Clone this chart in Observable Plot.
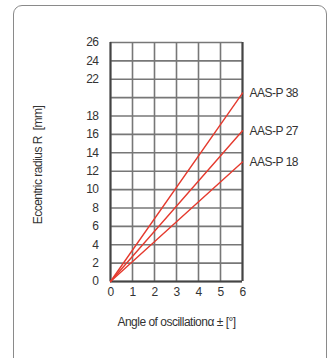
<!DOCTYPE html>
<html><head><meta charset="utf-8">
<script src="https://cdn.jsdelivr.net/npm/d3@7"></script>
<script src="https://cdn.jsdelivr.net/npm/@observablehq/plot@0.6"></script>
<style>
html,body{margin:0;padding:0;background:#fff;}
#wrap{position:relative;width:334px;height:358px;overflow:hidden;}
#box{position:absolute;left:13px;top:5px;width:314px;height:370px;border:1.3px solid #8a8a8a;border-radius:9px;box-sizing:border-box;}
#chart{position:absolute;left:0;top:0;}
#chart text{letter-spacing:-0.5px;}
</style></head><body>
<div id="wrap"><div id="box"></div><div id="chart"></div></div>
<script>
const series = ["AAS-P 38", "AAS-P 27", "AAS-P 18"];
const angleStart = 0;
const angleEnd = 6;
const radiusAtEnd = [20.5, 16.4, 13.0];
const xTicks = [0, 1, 2, 3, 4, 5, 6];
const yGrid = [0, 2, 4, 6, 8, 10, 12, 14, 16, 18, 20, 22, 24, 26];
const yLabels = [0, 2, 4, 6, 8, 10, 12, 14, 16, 18, 22, 24, 26];

const lineData = series.flatMap((s, i) => [
  {series: s, angle: angleStart, r: 0},
  {series: s, angle: angleEnd, r: radiusAtEnd[i]}
]);
const labelData = series.map((s, i) => ({series: s, angle: angleEnd, r: radiusAtEnd[i]}));

const font = "'Liberation Sans Narrow', 'Liberation Sans', Arial, sans-serif";
const chart = Plot.plot({
  width: 334, height: 358,
  marginLeft: 110, marginRight: 92, marginTop: 42, marginBottom: 77,
  style: {fontFamily: font, fontSize: "12px", color: "#333", background: "transparent", overflow: "visible"},
  x: {domain: [0, 6]},
  y: {domain: [0, 26]},
  marks: [
    Plot.gridX(xTicks, {stroke: "#777", strokeOpacity: 1, strokeWidth: 1.6}),
    Plot.gridY(yGrid, {stroke: "#777", strokeOpacity: 1, strokeWidth: 1.6}),
    Plot.ruleX([0, 6], {stroke: "#444", strokeWidth: 2}),
    Plot.ruleY([0], {stroke: "#444", strokeWidth: 2}),
    Plot.axisX(xTicks, {tickSize: 0, tickPadding: 6, fontSize: 12, label: null, fill: "#333"}),
    Plot.axisY(yLabels, {tickSize: 0, tickPadding: 12, fontSize: 12, label: null, fill: "#333"}),
    Plot.line(lineData, {x: "angle", y: "r", z: "series", stroke: "#e53a2e", strokeWidth: 1.4}),
    Plot.text(labelData, {x: "angle", y: "r", text: "series", textAnchor: "start", dx: 7, fontSize: 12, fill: "#333"}),
    Plot.text(["Angle of oscillationα ± [°]"], {frameAnchor: "bottom", dy: 44, fontSize: 12, fill: "#333"}),
    Plot.text(["Eccentric radius R  [mm]"], {frameAnchor: "left", textAnchor: "middle", dx: -72, dy: 3, rotate: -90, fontSize: 12, fill: "#333"})
  ]
});
document.getElementById("chart").appendChild(chart);
</script>
</body></html>
